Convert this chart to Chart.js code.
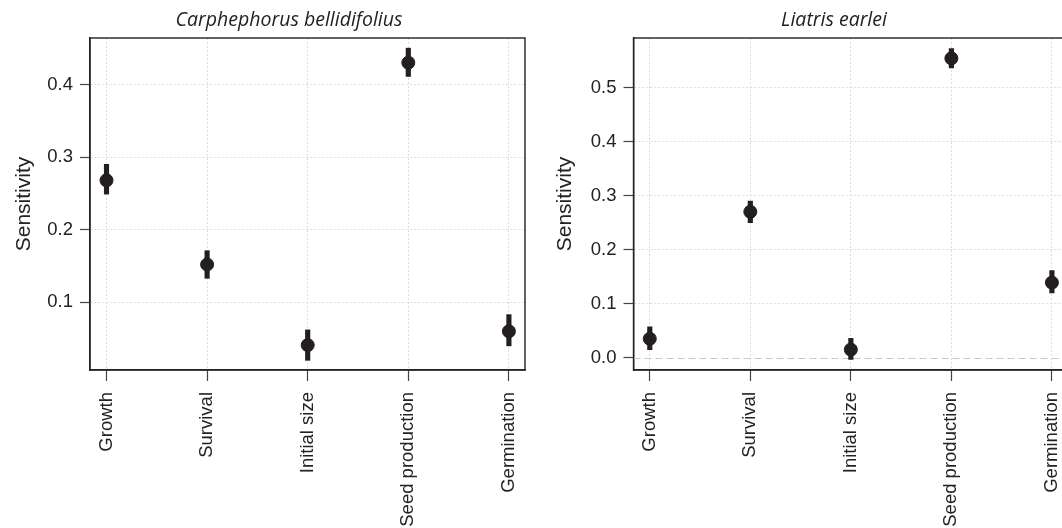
<!DOCTYPE html>
<html>
<head>
<meta charset="utf-8">
<script src="https://cdn.jsdelivr.net/npm/chart.js@4"></script>
<style>
  html, body { margin: 0; padding: 0; background: #fff; overflow: hidden; }
  body { width: 1062px; height: 528px; position: relative; }
  canvas { position: absolute; top: 0; }
</style>
</head>
<body>
<canvas id="carph" width="600" height="528" style="left:0"></canvas>
<canvas id="liatris" width="600" height="528" style="left:530px"></canvas>
<script>
// vital rates on the x axis
const categories = ["Growth", "Survival", "Initial size", "Seed production", "Germination"];

// Carphephorus bellidifolius
const carphMean = [0.268, 0.152, 0.041, 0.430, 0.060];
const carphLower = [0.249, 0.133, 0.020, 0.411, 0.040];
const carphUpper = [0.290, 0.171, 0.062, 0.450, 0.083];
const carphTicks = [0.1, 0.2, 0.3, 0.4];

// Liatris earlei
const liatrisMean = [0.035, 0.270, 0.015, 0.554, 0.139];
const liatrisLower = [0.015, 0.250, -0.003, 0.536, 0.120];
const liatrisUpper = [0.057, 0.290, 0.036, 0.572, 0.161];
const liatrisTicks = [0.0, 0.1, 0.2, 0.3, 0.4, 0.5];

const ink = "#231f20";
const sans = "'Liberation Sans', Arial, sans-serif";

// box, italic panel title and dashed zero line
const panelDecor = {
  id: "panelDecor",
  beforeDatasetsDraw(chart, args, opts) {
    if (!opts.zeroLine) return;
    const { ctx, chartArea } = chart;
    const y = Math.round(chart.scales.y.getPixelForValue(0)) + 0.5;
    ctx.save();
    ctx.strokeStyle = "#c8c8c8";
    ctx.lineWidth = 1.2;
    ctx.setLineDash([7, 4]);
    ctx.beginPath();
    ctx.moveTo(chartArea.left, y);
    ctx.lineTo(chartArea.right, y);
    ctx.stroke();
    ctx.restore();
  },
  afterDraw(chart, args, opts) {
    const { ctx, chartArea } = chart;
    ctx.save();
    ctx.strokeStyle = "#222";
    ctx.lineWidth = 1.4;
    ctx.strokeRect(chartArea.left, chartArea.top, chartArea.right - chartArea.left, chartArea.bottom - chartArea.top);
    ctx.fillStyle = "#222";
    ctx.font = "italic 19.5px 'Open Sans', Lato, sans-serif";
    ctx.textAlign = "center";
    ctx.textBaseline = "alphabetic";
    ctx.fillText(opts.text, opts.x, 26);
    ctx.restore();
  },
};

function makePanel(id, mean, lower, upper, yTicks, o) {
  new Chart(document.getElementById(id), {
    type: "scatter",
    data: {
      datasets: [
        {
          type: "bar",
          data: categories.map((c, i) => ({ x: i, y: [lower[i], upper[i]] })),
          backgroundColor: ink,
          borderWidth: 0,
          barThickness: 4.5,
        },
        {
          type: "scatter",
          data: categories.map((c, i) => ({ x: i, y: mean[i] })),
          backgroundColor: ink,
          borderColor: ink,
          pointRadius: 6.5,
          pointHoverRadius: 6.5,
        },
      ],
    },
    options: {
      responsive: false,
      animation: false,
      layout: { padding: { top: 38, right: o.padRight, left: 0, bottom: 0 } },
      plugins: {
        legend: { display: false },
        tooltip: { enabled: false },
        panelDecor: { text: o.title, x: o.titleX, zeroLine: o.zeroLine },
      },
      scales: {
        x: {
          type: "linear",
          offset: false,
          min: o.xMin,
          max: o.xMax,
          afterBuildTicks: (s) => { s.ticks = categories.map((c, i) => ({ value: i })); },
          afterFit: (s) => { s.height = 158; },
          ticks: {
            autoSkip: false,
            minRotation: 90,
            maxRotation: 90,
            padding: 11,
            color: "#222",
            font: { family: sans, size: 18.5 },
            callback: (v) => categories[v],
          },
          grid: { offset: false, color: "#dcdcdc", lineWidth: 1, tickLength: 11, tickColor: "#444", tickWidth: 1.2 },
          border: { display: true, color: "#222", width: 1.4, dash: [2, 2] },
        },
        y: {
          min: o.yMin,
          max: o.yMax,
          afterBuildTicks: (s) => { s.ticks = yTicks.map((v) => ({ value: v })); },
          afterFit: (s) => { s.width = o.yWidth; },
          title: {
            display: true,
            text: "Sensitivity",
            color: "#222",
            font: { family: sans, size: 21 },
            padding: { top: o.yTitlePad, bottom: 0 },
          },
          ticks: {
            padding: 7,
            color: "#222",
            font: { family: sans, size: 18.5 },
            callback: (v) => Number(v).toFixed(1),
          },
          grid: {
            color: (c) => (o.zeroLine && c.tick && c.tick.value === 0 ? "rgba(0,0,0,0)" : "#dcdcdc"),
            lineWidth: 1,
            tickLength: 10,
            tickColor: "#444",
            tickWidth: 1.2,
          },
          border: { display: true, color: "#222", width: 1.4, dash: [2, 2] },
        },
      },
    },
    plugins: [panelDecor],
  });
}

makePanel("carph", carphMean, carphLower, carphUpper, carphTicks, {
  title: "Carphephorus bellidifolius",
  titleX: 289,
  xMin: -0.164,
  xMax: 4.16,
  yMin: 0.0067,
  yMax: 0.464,
  yWidth: 90,
  yTitlePad: 12,
  padRight: 75,
  zeroLine: false,
});

makePanel("liatris", liatrisMean, liatrisLower, liatrisUpper, liatrisTicks, {
  title: "Liatris earlei",
  titleX: 304,
  xMin: -0.162,
  xMax: 4.16,
  yMin: -0.0228,
  yMax: 0.5916,
  yWidth: 103.5,
  yTitlePad: 23,
  padRight: 62,
  zeroLine: true,
});
</script>
</body>
</html>
